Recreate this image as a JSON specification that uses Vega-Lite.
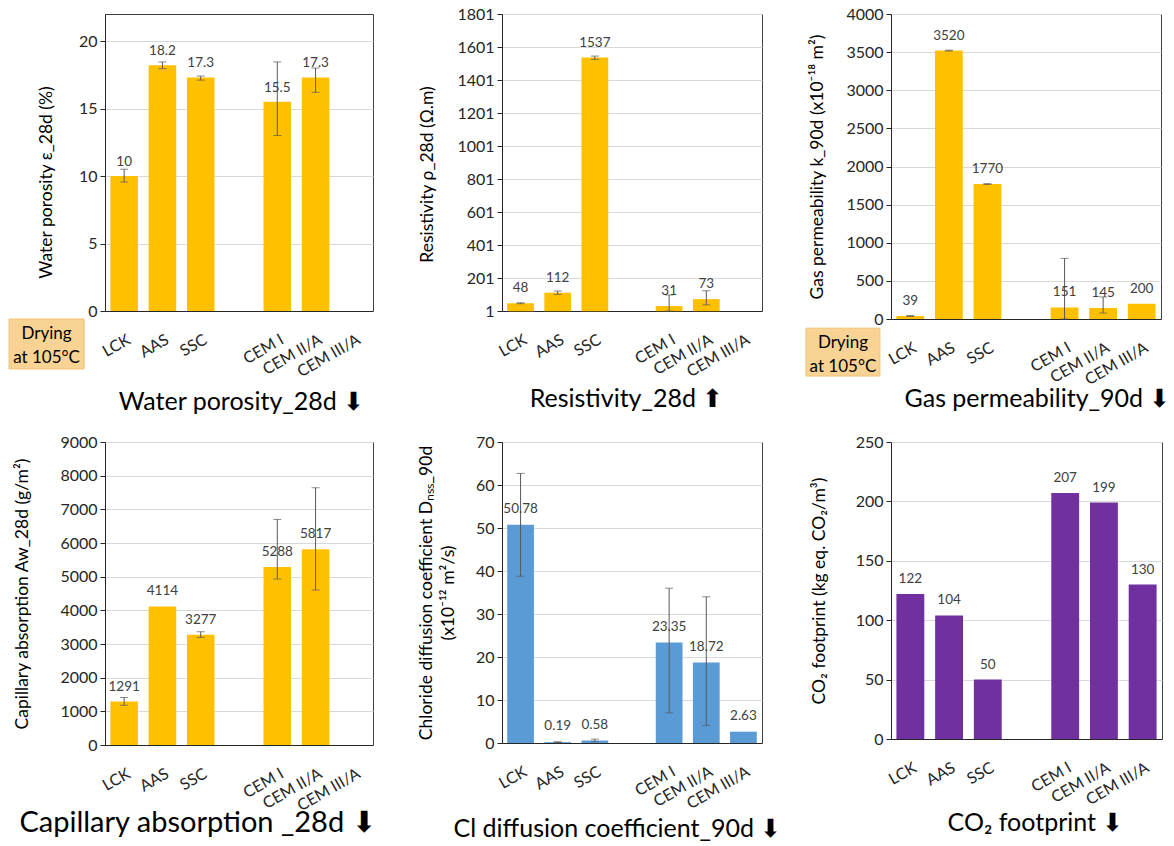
{
  "$schema": "https://vega.github.io/schema/vega-lite/v6.json",
  "padding": {"left": 8, "top": 5, "right": 0, "bottom": 5},
  "background": "white",
  "config": {
    "font": "Lato",
    "view": {"stroke": "#404040", "strokeWidth": 1},
    "axis": {"labelFont": "Lato", "titleFont": "Lato", "labelColor": "#262626", "titleColor": "#000000", "titleFontWeight": "normal", "domainColor": "#262626", "tickColor": "#262626"},
    "axisY": {"labelFontSize": 16, "titleFontSize": 17.5, "gridColor": "#D9D9D9", "tickSize": 5, "labelPadding": 3, "format": "d", "titleBaseline": "middle", "titleLineHeight": 22},
    "axisX": {"labelFontSize": 16, "labelAngle": -30, "labelAlign": "right", "labelBaseline": "middle", "labelPadding": 27, "labelOffset": 5, "ticks": false, "tickSize": 0, "grid": false, "labelOverlap": false, "titleFontSize": 25, "titleBaseline": "alphabetic"},
    "text": {"font": "Lato"}
  },
  "datasets": {
    "wp": [
      {"mix": "LCK", "value": 10, "lo": 9.55, "hi": 10.5},
      {"mix": "AAS", "value": 18.2, "lo": 17.95, "hi": 18.45},
      {"mix": "SSC", "value": 17.3, "lo": 17.1, "hi": 17.4},
      {"mix": "CEM I", "value": 15.5, "lo": 13.0, "hi": 18.45},
      {"mix": "CEM II/A", "value": 17.3, "lo": 16.2, "hi": 18.0}
    ],
    "res": [
      {"mix": "LCK", "value": 48, "lo": 45, "hi": 51},
      {"mix": "AAS", "value": 112, "lo": 102, "hi": 122},
      {"mix": "SSC", "value": 1537, "lo": 1526, "hi": 1546},
      {"mix": "CEM I", "value": 31, "lo": 1, "hi": 98},
      {"mix": "CEM II/A", "value": 73, "lo": 38, "hi": 124}
    ],
    "gas": [
      {"mix": "LCK", "value": 39, "lo": 33, "hi": 45},
      {"mix": "AAS", "value": 3520, "lo": 3514, "hi": 3526},
      {"mix": "SSC", "value": 1770, "lo": 1765, "hi": 1775},
      {"mix": "CEM I", "value": 151, "lo": 0, "hi": 795},
      {"mix": "CEM II/A", "value": 145, "lo": 78, "hi": 290},
      {"mix": "CEM III/A", "value": 200}
    ],
    "cap": [
      {"mix": "LCK", "value": 1291, "lo": 1181, "hi": 1409},
      {"mix": "AAS", "value": 4114},
      {"mix": "SSC", "value": 3277, "lo": 3195, "hi": 3364},
      {"mix": "CEM I", "value": 5288, "lo": 4930, "hi": 6700},
      {"mix": "CEM II/A", "value": 5817, "lo": 4604, "hi": 7641}
    ],
    "cl": [
      {"mix": "LCK", "value": 50.78, "lo": 38.8, "hi": 62.7},
      {"mix": "AAS", "value": 0.19, "lo": 0.1, "hi": 0.3},
      {"mix": "SSC", "value": 0.58, "lo": 0.3, "hi": 0.9},
      {"mix": "CEM I", "value": 23.35, "lo": 7.0, "hi": 36.0},
      {"mix": "CEM II/A", "value": 18.72, "lo": 4.1, "hi": 34.0},
      {"mix": "CEM III/A", "value": 2.63}
    ],
    "co2": [
      {"mix": "LCK", "value": 122},
      {"mix": "AAS", "value": 104},
      {"mix": "SSC", "value": 50},
      {"mix": "CEM I", "value": 207},
      {"mix": "CEM II/A", "value": 199},
      {"mix": "CEM III/A", "value": 130}
    ]
  },
  "bounds": "flush",
  "align": "each",
  "columns": 3,
  "spacing": {"column": 129, "row": 123},
  "concat": [
    {
      "width": 268, "height": 297,
      "resolve": {"scale": {"x": "independent", "y": "independent"}},
      "layer": [
        {
          "data": {"name": "wp"},
          "encoding": {"x": {"field": "mix", "type": "nominal", "sort": null, "scale": {"domain": ["LCK", "AAS", "SSC", " ", "CEM I", "CEM II/A", "CEM III/A"], "paddingInner": 0.28, "paddingOuter": 0.14}, "axis": {"title": "Water porosity_28d ⬇", "titleX": 136, "titleY": 98}}},
          "layer": [
            {"mark": {"type": "bar", "color": "#FFC000"}, "encoding": {"y": {"field": "value", "type": "quantitative", "scale": {"domain": [0, 22], "nice": false}, "axis": {"values": [0, 5, 10, 15, 20], "title": "Water porosity ε_28d (%)", "titleX": -59, "titleY": 168}}}},
            {"mark": {"type": "rule", "color": "#595959", "strokeWidth": 1}, "encoding": {"y": {"field": "lo", "type": "quantitative", "scale": {"domain": [0, 22], "nice": false}, "axis": {"values": [0, 5, 10, 15, 20], "title": "Water porosity ε_28d (%)", "titleX": -59, "titleY": 168}}, "y2": {"field": "hi"}}},
            {"mark": {"type": "tick", "color": "#595959", "size": 8, "thickness": 1}, "encoding": {"y": {"field": "lo", "type": "quantitative", "scale": {"domain": [0, 22], "nice": false}, "axis": {"values": [0, 5, 10, 15, 20], "title": "Water porosity ε_28d (%)", "titleX": -59, "titleY": 168}}}},
            {"mark": {"type": "tick", "color": "#595959", "size": 8, "thickness": 1}, "encoding": {"y": {"field": "hi", "type": "quantitative", "scale": {"domain": [0, 22], "nice": false}, "axis": {"values": [0, 5, 10, 15, 20], "title": "Water porosity ε_28d (%)", "titleX": -59, "titleY": 168}}}},
            {"mark": {"type": "text", "baseline": "alphabetic", "dy": -10, "fontSize": 13.5, "color": "#404040"}, "encoding": {"y": {"field": "value", "type": "quantitative", "scale": {"domain": [0, 22], "nice": false}, "axis": {"values": [0, 5, 10, 15, 20], "title": "Water porosity ε_28d (%)", "titleX": -59, "titleY": 168}}, "text": {"field": "value", "type": "nominal"}}}
          ]
        },
        {
          "data": {"values": [{"note": "Drying\nat 105°C"}]},
          "layer": [
            {"mark": {"type": "rect", "fill": "#F9D393", "stroke": "#F2C277"}, "encoding": {"x": {"datum": -0.358, "type": "quantitative", "scale": {"domain": [0, 1], "nice": false, "zero": false}, "axis": null}, "x2": {"datum": -0.078}, "y": {"datum": -0.027, "type": "quantitative", "scale": {"domain": [0, 1], "nice": false, "zero": false}, "axis": null}, "y2": {"datum": -0.195}}},
            {"mark": {"type": "text", "fontSize": 17, "lineBreak": "\n", "lineHeight": 24, "baseline": "middle", "color": "#000000"}, "encoding": {"x": {"datum": -0.218, "type": "quantitative", "scale": {"domain": [0, 1], "nice": false, "zero": false}, "axis": null}, "y": {"datum": -0.077, "type": "quantitative", "scale": {"domain": [0, 1], "nice": false, "zero": false}, "axis": null}, "text": {"field": "note"}}}
          ]
        }
      ]
    },
    {
      "width": 260, "height": 297,
      "data": {"name": "res"},
      "encoding": {"x": {"field": "mix", "type": "nominal", "sort": null, "scale": {"domain": ["LCK", "AAS", "SSC", " ", "CEM I", "CEM II/A", "CEM III/A"], "paddingInner": 0.28, "paddingOuter": 0.14}, "axis": {"title": "Resistivity_28d ⬆", "titleX": 124, "titleY": 95}}},
      "layer": [
        {"mark": {"type": "bar", "color": "#FFC000"}, "encoding": {"y": {"field": "value", "type": "quantitative", "scale": {"domain": [1, 1801], "nice": false, "zero": false}, "axis": {"values": [1, 201, 401, 601, 801, 1001, 1201, 1401, 1601, 1801], "title": "Resistivity ρ_28d (Ω.m)", "titleX": -75, "titleY": 160}}}},
        {"mark": {"type": "rule", "color": "#595959", "strokeWidth": 1}, "encoding": {"y": {"field": "lo", "type": "quantitative", "scale": {"domain": [1, 1801], "nice": false, "zero": false}, "axis": {"values": [1, 201, 401, 601, 801, 1001, 1201, 1401, 1601, 1801], "title": "Resistivity ρ_28d (Ω.m)", "titleX": -75, "titleY": 160}}, "y2": {"field": "hi"}}},
        {"mark": {"type": "tick", "color": "#595959", "size": 8, "thickness": 1}, "encoding": {"y": {"field": "lo", "type": "quantitative", "scale": {"domain": [1, 1801], "nice": false, "zero": false}, "axis": {"values": [1, 201, 401, 601, 801, 1001, 1201, 1401, 1601, 1801], "title": "Resistivity ρ_28d (Ω.m)", "titleX": -75, "titleY": 160}}}},
        {"mark": {"type": "tick", "color": "#595959", "size": 8, "thickness": 1}, "encoding": {"y": {"field": "hi", "type": "quantitative", "scale": {"domain": [1, 1801], "nice": false, "zero": false}, "axis": {"values": [1, 201, 401, 601, 801, 1001, 1201, 1401, 1601, 1801], "title": "Resistivity ρ_28d (Ω.m)", "titleX": -75, "titleY": 160}}}},
        {"mark": {"type": "text", "baseline": "alphabetic", "dy": -11, "fontSize": 13.5, "color": "#404040"}, "encoding": {"y": {"field": "value", "type": "quantitative", "scale": {"domain": [1, 1801], "nice": false, "zero": false}, "axis": {"values": [1, 201, 401, 601, 801, 1001, 1201, 1401, 1601, 1801], "title": "Resistivity ρ_28d (Ω.m)", "titleX": -75, "titleY": 160}}, "text": {"field": "value", "type": "nominal"}}}
      ]
    },
    {
      "width": 270, "height": 305,
      "resolve": {"scale": {"x": "independent", "y": "independent"}},
      "layer": [
        {
          "data": {"name": "gas"},
          "encoding": {"x": {"field": "mix", "type": "nominal", "sort": null, "scale": {"domain": ["LCK", "AAS", "SSC", " ", "CEM I", "CEM II/A", "CEM III/A"], "paddingInner": 0.28, "paddingOuter": 0.14}, "axis": {"title": "Gas permeability_90d ⬇", "titleX": 146, "titleY": 87}}},
          "layer": [
            {"mark": {"type": "bar", "color": "#FFC000"}, "encoding": {"y": {"field": "value", "type": "quantitative", "scale": {"domain": [0, 4000], "nice": false}, "axis": {"values": [0, 500, 1000, 1500, 2000, 2500, 3000, 3500, 4000], "title": "Gas permeability k_90d (x10⁻¹⁸ m²)", "titleX": -74}}}},
            {"mark": {"type": "rule", "color": "#595959", "strokeWidth": 1}, "encoding": {"y": {"field": "lo", "type": "quantitative", "scale": {"domain": [0, 4000], "nice": false}, "axis": {"values": [0, 500, 1000, 1500, 2000, 2500, 3000, 3500, 4000], "title": "Gas permeability k_90d (x10⁻¹⁸ m²)", "titleX": -74}}, "y2": {"field": "hi"}}},
            {"mark": {"type": "tick", "color": "#595959", "size": 8, "thickness": 1}, "encoding": {"y": {"field": "lo", "type": "quantitative", "scale": {"domain": [0, 4000], "nice": false}, "axis": {"values": [0, 500, 1000, 1500, 2000, 2500, 3000, 3500, 4000], "title": "Gas permeability k_90d (x10⁻¹⁸ m²)", "titleX": -74}}}},
            {"mark": {"type": "tick", "color": "#595959", "size": 8, "thickness": 1}, "encoding": {"y": {"field": "hi", "type": "quantitative", "scale": {"domain": [0, 4000], "nice": false}, "axis": {"values": [0, 500, 1000, 1500, 2000, 2500, 3000, 3500, 4000], "title": "Gas permeability k_90d (x10⁻¹⁸ m²)", "titleX": -74}}}},
            {"mark": {"type": "text", "baseline": "alphabetic", "dy": -11, "fontSize": 13.5, "color": "#404040"}, "encoding": {"y": {"field": "value", "type": "quantitative", "scale": {"domain": [0, 4000], "nice": false}, "axis": {"values": [0, 500, 1000, 1500, 2000, 2500, 3000, 3500, 4000], "title": "Gas permeability k_90d (x10⁻¹⁸ m²)", "titleX": -74}}, "text": {"field": "value", "type": "nominal"}}}
          ]
        },
        {
          "data": {"values": [{"note": "Drying\nat 105°C"}]},
          "layer": [
            {"mark": {"type": "rect", "fill": "#F9D393", "stroke": "#F2C277"}, "encoding": {"x": {"datum": -0.315, "type": "quantitative", "scale": {"domain": [0, 1], "nice": false, "zero": false}, "axis": null}, "x2": {"datum": -0.041}, "y": {"datum": -0.03, "type": "quantitative", "scale": {"domain": [0, 1], "nice": false, "zero": false}, "axis": null}, "y2": {"datum": -0.187}}},
            {"mark": {"type": "text", "fontSize": 17, "lineBreak": "\n", "lineHeight": 24, "baseline": "middle", "color": "#000000"}, "encoding": {"x": {"datum": -0.178, "type": "quantitative", "scale": {"domain": [0, 1], "nice": false, "zero": false}, "axis": null}, "y": {"datum": -0.078, "type": "quantitative", "scale": {"domain": [0, 1], "nice": false, "zero": false}, "axis": null}, "text": {"field": "note"}}}
          ]
        }
      ]
    },
    {
      "width": 268, "height": 303,
      "data": {"name": "cap"},
      "encoding": {"x": {"field": "mix", "type": "nominal", "sort": null, "scale": {"domain": ["LCK", "AAS", "SSC", " ", "CEM I", "CEM II/A", "CEM III/A"], "paddingInner": 0.28, "paddingOuter": 0.14}, "axis": {"title": "Capillary absorption _28d ⬇", "titleX": 92, "titleY": 86, "titleFontSize": 29}}},
      "layer": [
        {"mark": {"type": "bar", "color": "#FFC000"}, "encoding": {"y": {"field": "value", "type": "quantitative", "scale": {"domain": [0, 9000], "nice": false}, "axis": {"values": [0, 1000, 2000, 3000, 4000, 5000, 6000, 7000, 8000, 9000], "title": "Capillary absorption Aw_28d (g/m²)", "titleX": -83}}}},
        {"mark": {"type": "rule", "color": "#595959", "strokeWidth": 1}, "encoding": {"y": {"field": "lo", "type": "quantitative", "scale": {"domain": [0, 9000], "nice": false}, "axis": {"values": [0, 1000, 2000, 3000, 4000, 5000, 6000, 7000, 8000, 9000], "title": "Capillary absorption Aw_28d (g/m²)", "titleX": -83}}, "y2": {"field": "hi"}}},
        {"mark": {"type": "tick", "color": "#595959", "size": 8, "thickness": 1}, "encoding": {"y": {"field": "lo", "type": "quantitative", "scale": {"domain": [0, 9000], "nice": false}, "axis": {"values": [0, 1000, 2000, 3000, 4000, 5000, 6000, 7000, 8000, 9000], "title": "Capillary absorption Aw_28d (g/m²)", "titleX": -83}}}},
        {"mark": {"type": "tick", "color": "#595959", "size": 8, "thickness": 1}, "encoding": {"y": {"field": "hi", "type": "quantitative", "scale": {"domain": [0, 9000], "nice": false}, "axis": {"values": [0, 1000, 2000, 3000, 4000, 5000, 6000, 7000, 8000, 9000], "title": "Capillary absorption Aw_28d (g/m²)", "titleX": -83}}}},
        {"mark": {"type": "text", "baseline": "alphabetic", "dy": -11, "fontSize": 13.5, "color": "#404040"}, "encoding": {"y": {"field": "value", "type": "quantitative", "scale": {"domain": [0, 9000], "nice": false}, "axis": {"values": [0, 1000, 2000, 3000, 4000, 5000, 6000, 7000, 8000, 9000], "title": "Capillary absorption Aw_28d (g/m²)", "titleX": -83}}, "text": {"field": "value", "type": "nominal"}}}
      ]
    },
    {
      "width": 260, "height": 301,
      "data": {"name": "cl"},
      "encoding": {"x": {"field": "mix", "type": "nominal", "sort": null, "scale": {"domain": ["LCK", "AAS", "SSC", " ", "CEM I", "CEM II/A", "CEM III/A"], "paddingInner": 0.28, "paddingOuter": 0.14}, "axis": {"title": "Cl diffusion coefficient_90d ⬇", "titleX": 115, "titleY": 93}}},
      "layer": [
        {"mark": {"type": "bar", "color": "#5B9BD5"}, "encoding": {"y": {"field": "value", "type": "quantitative", "scale": {"domain": [0, 70], "nice": false}, "axis": {"values": [0, 10, 20, 30, 40, 50, 60, 70], "title": ["Chloride diffusion coefficient Dₙₛₛ_90d", "(x10⁻¹² m²/s)"], "titleX": -76}}}},
        {"mark": {"type": "rule", "color": "#595959", "strokeWidth": 1}, "encoding": {"y": {"field": "lo", "type": "quantitative", "scale": {"domain": [0, 70], "nice": false}, "axis": {"values": [0, 10, 20, 30, 40, 50, 60, 70], "title": ["Chloride diffusion coefficient Dₙₛₛ_90d", "(x10⁻¹² m²/s)"], "titleX": -76}}, "y2": {"field": "hi"}}},
        {"mark": {"type": "tick", "color": "#595959", "size": 8, "thickness": 1}, "encoding": {"y": {"field": "lo", "type": "quantitative", "scale": {"domain": [0, 70], "nice": false}, "axis": {"values": [0, 10, 20, 30, 40, 50, 60, 70], "title": ["Chloride diffusion coefficient Dₙₛₛ_90d", "(x10⁻¹² m²/s)"], "titleX": -76}}}},
        {"mark": {"type": "tick", "color": "#595959", "size": 8, "thickness": 1}, "encoding": {"y": {"field": "hi", "type": "quantitative", "scale": {"domain": [0, 70], "nice": false}, "axis": {"values": [0, 10, 20, 30, 40, 50, 60, 70], "title": ["Chloride diffusion coefficient Dₙₛₛ_90d", "(x10⁻¹² m²/s)"], "titleX": -76}}}},
        {"mark": {"type": "text", "baseline": "alphabetic", "dy": -12, "fontSize": 13.5, "color": "#404040"}, "encoding": {"y": {"field": "value", "type": "quantitative", "scale": {"domain": [0, 70], "nice": false}, "axis": {"values": [0, 10, 20, 30, 40, 50, 60, 70], "title": ["Chloride diffusion coefficient Dₙₛₛ_90d", "(x10⁻¹² m²/s)"], "titleX": -76}}, "text": {"field": "value", "type": "nominal"}}}
      ]
    },
    {
      "width": 271, "height": 297,
      "data": {"name": "co2"},
      "encoding": {"x": {"field": "mix", "type": "nominal", "sort": null, "scale": {"domain": ["LCK", "AAS", "SSC", " ", "CEM I", "CEM II/A", "CEM III/A"], "paddingInner": 0.28, "paddingOuter": 0.14}, "axis": {"title": "CO₂ footprint ⬇", "titleX": 144, "titleY": 91}}},
      "layer": [
        {"mark": {"type": "bar", "color": "#7030A0"}, "encoding": {"y": {"field": "value", "type": "quantitative", "scale": {"domain": [0, 250], "nice": false}, "axis": {"values": [0, 50, 100, 150, 200, 250], "title": "CO₂ footprint (kg eq. CO₂/m³)", "titleX": -72}}}},
        {"mark": {"type": "text", "baseline": "alphabetic", "dy": -11, "fontSize": 13.5, "color": "#404040"}, "encoding": {"y": {"field": "value", "type": "quantitative", "scale": {"domain": [0, 250], "nice": false}, "axis": {"values": [0, 50, 100, 150, 200, 250], "title": "CO₂ footprint (kg eq. CO₂/m³)", "titleX": -72}}, "text": {"field": "value", "type": "nominal"}}}
      ]
    }
  ]
}
